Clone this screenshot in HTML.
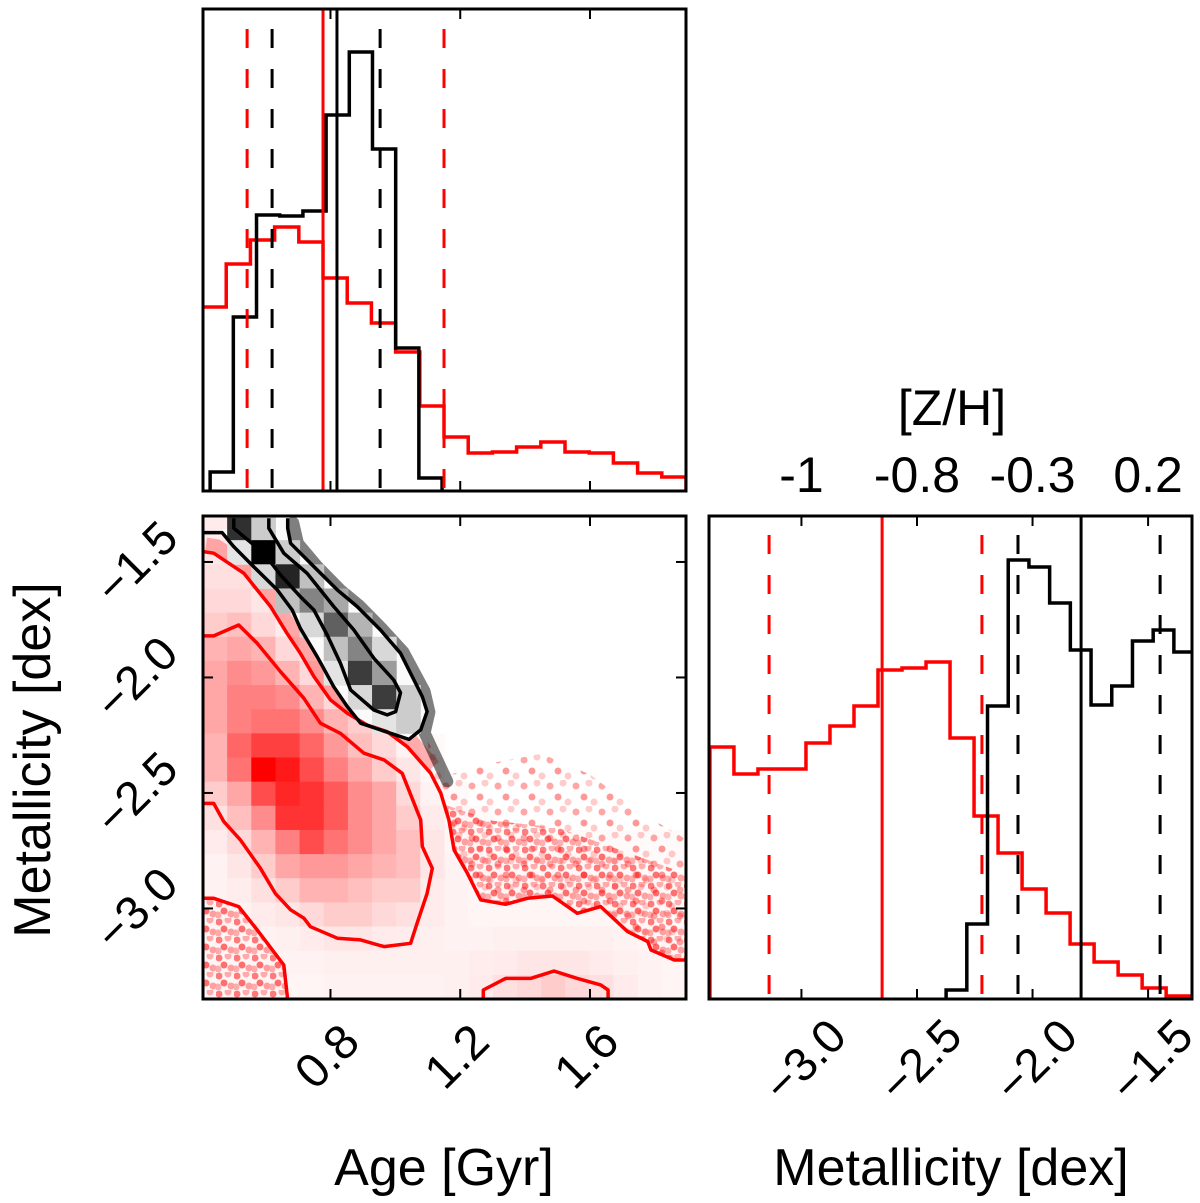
<!DOCTYPE html>
<html><head><meta charset="utf-8"><title>Corner plot</title>
<style>
html,body{margin:0;padding:0;background:#fff;}
svg{display:block;}
text{font-family:"Liberation Sans",Arial,sans-serif;fill:#000;}
</style></head>
<body>
<svg id="chart" xmlns="http://www.w3.org/2000/svg" width="1200" height="1203" viewBox="0 0 1200 1203">
<defs>
<clipPath id="clipTop"><rect x="203" y="9" width="483" height="482"/></clipPath>
<clipPath id="clip2d"><rect x="203" y="516" width="483" height="483"/></clipPath>
<clipPath id="clipRight"><rect x="709" y="516" width="483" height="483"/></clipPath>
<pattern id="speckRed" width="18" height="18" patternUnits="userSpaceOnUse">
<circle cx="3" cy="4" r="3.5" fill="rgba(255,0,0,0.5)"/>
<circle cx="12" cy="2" r="3.5" fill="rgba(255,0,0,0.3)"/>
<circle cx="8" cy="11" r="3.5" fill="rgba(255,0,0,0.55)"/>
<circle cx="15" cy="14" r="3.5" fill="rgba(255,0,0,0.35)"/>
<circle cx="2" cy="15" r="3.5" fill="rgba(255,0,0,0.3)"/>
</pattern>
<pattern id="speckRedLight" width="26" height="26" patternUnits="userSpaceOnUse">
<circle cx="4" cy="6" r="3.5" fill="rgba(255,0,0,0.35)"/>
<circle cx="17" cy="3" r="3.5" fill="rgba(255,0,0,0.2)"/>
<circle cx="12" cy="17" r="3.5" fill="rgba(255,0,0,0.4)"/>
<circle cx="22" cy="22" r="3.5" fill="rgba(255,0,0,0.2)"/>
</pattern>
</defs>
<g id="gTop" clip-path="url(#clipTop)"></g>
<g id="g2d" clip-path="url(#clip2d)"></g>
<g id="gRight" clip-path="url(#clipRight)"></g>
<g id="gAxes"></g>
</svg>
<script>
// ---------- data ----------
const ageDomain = [0.407, 1.896];
const metDomain = [-3.392, -1.301];
const metDomainRight = [-3.40, -1.31];

const ageBlackStart = 0.429, ageBlackWidth = 0.0715;
const ageBlackCounts = [19,174,276,275,280,376,439,342,143,13];
const ageRedStart = 0.404, ageRedWidth = 0.0746;
const ageRedCounts = [184,227,251,264,249,213,188,168,139,85,54,38,39,44,49,39,38,28,18,14];
const ageRedDashed = [0.543, 1.150];
const ageBlackDashed = [0.620, 0.953];
const ageRedSolid = [0.777];
const ageBlackSolid = [0.820];
const ageTicks = [0.8, 1.2, 1.6];
const ageTickLabels = ["0.8","1.2","1.6"];

const metRedStart = -3.396, metRedWidth = 0.1039;
const metRedCounts = [252,225,230,230,256,273,293,329,331,337,261,183,146,110,86,55,37,24,11,3];
const metBlackStart = -2.374, metBlackWidth = 0.0896;
const metBlackCounts = [9,75,293,439,432,396,349,294,313,358,369,347];
const metRedDashed = [-3.140, -2.219];
const metRedSolid = [-2.651];
const metBlackDashed = [-2.063, -1.448];
const metBlackSolid = [-1.790];
const metTicks = [-3.0, -2.5, -2.0, -1.5];
const metTickLabels = ["\u22123.0","\u22122.5","\u22122.0","\u22121.5"];
const zhTickLabels = ["-1","-0.8","-0.3","0.2"];

const redGrid = [
[.08,.08,0,0,0,0,0,0,0,0,0,0,0,0,0,0,0,0,0,0],
[.1,.1,.03,0,0,0,0,0,0,0,0,0,0,0,0,0,0,0,0,0],
[.12,.12,.06,.02,0,0,0,0,0,0,0,0,0,0,0,0,0,0,0,0],
[.15,.15,.1,.05,.02,0,0,0,0,0,0,0,0,0,0,0,0,0,0,0],
[.2,.25,.15,.08,.03,0,0,0,0,0,0,0,0,0,0,0,0,0,0,0],
[.3,.35,.3,.15,.08,.03,0,0,0,0,0,0,0,0,0,0,0,0,0,0],
[.35,.45,.4,.3,.15,.08,.03,0,0,0,0,0,0,0,0,0,0,0,0,0],
[.35,.5,.5,.45,.3,.15,.08,.03,0,0,0,0,0,0,0,0,0,0,0,0],
[.35,.5,.55,.55,.45,.3,.2,.08,.03,0,0,0,0,0,0,0,0,0,0,0],
[.3,.6,.75,.75,.6,.4,.25,.15,.05,.02,0,0,0,0,0,0,0,0,0,0],
[.3,.55,1,.9,.7,.5,.35,.2,.1,.03,0,0,0,0,0,0,0,0,0,0],
[.2,.35,.7,.85,.8,.65,.45,.35,.15,.05,.02,0,0,0,0,0,0,0,0,0],
[.12,.25,.45,.8,.8,.65,.45,.35,.2,.08,.03,.02,0,0,0,0,0,0,0,0],
[.08,.15,.3,.5,.7,.55,.45,.35,.25,.1,.04,.03,.02,.02,.02,.02,.02,.02,.02,.02],
[.05,.1,.2,.35,.4,.4,.35,.3,.25,.1,.05,.03,.03,.03,.03,.03,.03,.03,.02,.02],
[.05,.07,.12,.2,.3,.3,.25,.2,.2,.08,.05,.04,.04,.04,.04,.04,.04,.04,.03,.02],
[.05,.05,.08,.1,.15,.2,.2,.15,.12,.08,.05,.04,.04,.04,.04,.04,.04,.04,.03,.02],
[.04,.04,.05,.06,.08,.1,.1,.08,.07,.06,.05,.05,.06,.06,.06,.06,.06,.05,.04,.03],
[.04,.04,.04,.05,.05,.06,.06,.06,.06,.06,.06,.07,.08,.1,.1,.1,.08,.06,.05,.04],
[.03,.04,.04,.04,.04,.05,.05,.05,.05,.05,.06,.08,.12,.15,.2,.15,.12,.08,.05,.04]
];
const blackCells = [
[1,0,.8],[2,0,.15],
[1,1,.05],[2,1,1],[3,1,.15],
[2,2,.1],[3,2,.85],[4,2,.2],
[3,3,.2],[4,3,.45],[5,3,.3],
[4,4,.1],[5,4,.6],[6,4,.25],
[5,5,.2],[6,5,.45],[7,5,.1],
[5,6,.05],[6,6,.75],[7,6,.35],
[6,7,.1],[7,7,.75],[8,7,.15],
[7,8,.05],[8,8,.15]
];

const redContour1 = [[0.407,-1.455],[0.440,-1.462],[0.533,-1.549],[0.615,-1.693],[0.666,-1.809],[0.707,-1.895],[0.749,-1.996],[0.800,-2.097],[0.852,-2.155],[0.913,-2.206],[0.975,-2.235],[1.037,-2.300],[1.109,-2.415],[1.140,-2.501],[1.165,-2.617],[1.181,-2.747],[1.222,-2.848],[1.263,-2.963],[1.340,-2.982],[1.407,-2.956],[1.484,-2.946],[1.561,-3.021],[1.633,-2.992],[1.716,-3.100],[1.778,-3.143],[1.788,-3.180],[1.860,-3.223],[1.896,-3.223]];
const redContour2 = [[0.407,-1.820],[0.440,-1.820],[0.517,-1.773],[0.574,-1.852],[0.646,-1.975],[0.718,-2.090],[0.769,-2.198],[0.831,-2.242],[0.903,-2.328],[0.965,-2.357],[1.021,-2.415],[1.078,-2.617],[1.083,-2.732],[1.114,-2.826],[1.098,-2.935],[1.067,-3.064],[1.047,-3.151],[0.965,-3.165],[0.893,-3.136],[0.821,-3.129],[0.738,-3.079],[0.718,-3.042],[0.677,-3.006],[0.630,-2.935],[0.584,-2.826],[0.522,-2.703],[0.471,-2.624],[0.440,-2.545],[0.407,-2.545]];
const redContour3 = [[0.407,-2.956],[0.440,-2.956],[0.517,-2.992],[0.574,-3.093],[0.656,-3.245],[0.668,-3.396]];
const redContour4 = [[1.271,-3.396],[1.271,-3.353],[1.340,-3.303],[1.417,-3.303],[1.489,-3.271],[1.561,-3.303],[1.633,-3.331],[1.656,-3.353],[1.656,-3.396]];
const blackContour1 = [[0.407,-1.373],[0.466,-1.373],[0.502,-1.434],[0.563,-1.520],[0.636,-1.621],[0.682,-1.708],[0.707,-1.787],[0.759,-1.910],[0.810,-2.040],[0.852,-2.126],[0.893,-2.198],[0.954,-2.227],[1.042,-2.268],[1.078,-2.227],[1.098,-2.148],[1.083,-2.083],[1.016,-1.895],[0.954,-1.794],[0.882,-1.693],[0.821,-1.621],[0.749,-1.520],[0.677,-1.419],[0.668,-1.354],[0.668,-1.311]];
const blackContour2 = [[0.502,-1.311],[0.502,-1.354],[0.594,-1.462],[0.646,-1.556],[0.707,-1.650],[0.749,-1.708],[0.790,-1.816],[0.831,-1.939],[0.862,-2.054],[0.934,-2.141],[0.975,-2.162],[1.001,-2.148],[1.016,-2.066],[0.995,-2.011],[0.934,-1.917],[0.872,-1.794],[0.810,-1.693],[0.728,-1.549],[0.656,-1.462],[0.610,-1.354],[0.610,-1.311]];
const redScatterTop = [[1.10,-2.28],[1.17,-2.42],[1.30,-2.37],[1.45,-2.33],[1.60,-2.42],[1.75,-2.58],[1.896,-2.70]];
const redScatterDense = [[1.15,-2.55],[1.30,-2.62],[1.50,-2.65],[1.70,-2.75],[1.896,-2.85]];
const blackSpeckle = [[0.685,-1.33],[0.70,-1.42],[0.76,-1.52],[0.83,-1.62],[0.89,-1.69],[0.96,-1.79],[1.025,-1.89],[1.09,-2.06],[1.105,-2.15],[1.09,-2.24],[1.12,-2.33],[1.16,-2.45]];

// ---------- scales ----------
const xAge = a => 203 + (a - ageDomain[0]) / (ageDomain[1] - ageDomain[0]) * 483;
const yMet = m => 516 + (metDomain[1] - m) / (metDomain[1] - metDomain[0]) * 483;
const xMet = m => 709 + (m - metDomainRight[0]) / (metDomainRight[1] - metDomainRight[0]) * 483;
const yTopCount = c => 491 - c;
const yRightCount = c => 999 - c;

const NS = "http://www.w3.org/2000/svg";
function mk(tag, parent, attrs){
  const e = document.createElementNS(NS, tag);
  for (const k in attrs) e.setAttribute(k, attrs[k]);
  parent.appendChild(e);
  return e;
}
const gTop = document.getElementById("gTop");
const g2d = document.getElementById("g2d");
const gRight = document.getElementById("gRight");
const gAxes = document.getElementById("gAxes");

function stepPath(start, width, counts, xf, yf, base){
  let d = "M" + xf(start) + "," + base;
  counts.forEach((c, i) => {
    d += " L" + xf(start + i*width) + "," + yf(c) + " L" + xf(start + (i+1)*width) + "," + yf(c);
  });
  d += " L" + xf(start + counts.length*width) + "," + base;
  return d;
}
function polyPath(pts, xf, yf, close){
  return pts.map((p,i)=> (i?"L":"M") + xf(p[0]).toFixed(1) + "," + yf(p[1]).toFixed(1)).join(" ") + (close?" Z":"");
}

let e;
e = mk("path", gTop, {d: stepPath(ageRedStart, ageRedWidth, ageRedCounts, xAge, yTopCount, 491), fill:"none", stroke:"#ff0000", "stroke-width":3.5});


e = mk("path", gTop, {d: stepPath(ageBlackStart, ageBlackWidth, ageBlackCounts, xAge, yTopCount, 491), fill:"none", stroke:"#000", "stroke-width":3.5});


function vline(g, x, y0, y1, color, dashed, name){
  const l = mk("line", g, {x1:x, x2:x, y1:y0, y2:y1, stroke:color, "stroke-width":3});
  if (dashed){ l.setAttribute("stroke-dasharray","19 21"); }
  
  
}
ageRedDashed.forEach(a => vline(gTop, xAge(a), 29, 491, "#ff0000", true, "age-red-quantile-line"));
ageBlackDashed.forEach(a => vline(gTop, xAge(a), 29, 491, "#000", true, "age-black-quantile-line"));
ageRedSolid.forEach(a => vline(gTop, xAge(a), 9, 491, "#ff0000", false, "age-red-median-line"));
ageBlackSolid.forEach(a => vline(gTop, xAge(a), 9, 491, "#000", false, "age-black-median-line"));

// ---------- 2D panel ----------
const nR = redGrid.length, nC = redGrid[0].length;
const cw = (ageDomain[1]-ageDomain[0])/nC, ch = (metDomain[1]-metDomain[0])/nR;
redGrid.forEach((row, r) => row.forEach((v, c) => {
  if (v <= 0) return;
  const x0 = xAge(ageDomain[0] + c*cw), x1 = xAge(ageDomain[0] + (c+1)*cw);
  const y0 = yMet(metDomain[1] - r*ch), y1 = yMet(metDomain[1] - (r+1)*ch);
  const g = Math.round(255*(1-v));
  const rc = mk("rect", g2d, {x:x0, y:y0, width:x1-x0+0.5, height:y1-y0+0.5, fill:"rgb(255,"+g+","+g+")"});
  
  
}));
e = mk("path", g2d, {d: polyPath(redScatterTop.concat(redContour1.slice().reverse().filter(p=>p[0]>=1.10)), xAge, yMet, true), fill:"url(#speckRedLight)"});


e = mk("path", g2d, {d: polyPath(redScatterDense.concat(redContour1.slice().reverse().filter(p=>p[0]>=1.15)), xAge, yMet, true), fill:"url(#speckRed)"});


e = mk("path", g2d, {d: polyPath(redContour3.concat([[0.407,-3.396]]), xAge, yMet, true), fill:"url(#speckRed)"});


e = mk("path", g2d, {d: polyPath(redContour1.filter(p=>p[0]<=1.11), xAge, yMet, false), fill:"none", stroke:"rgba(255,40,40,0.35)", "stroke-width":14, transform:"translate(3,-7)"});


e = mk("path", g2d, {d: polyPath(blackSpeckle, xAge, yMet, false), fill:"none", stroke:"rgba(0,0,0,0.5)", "stroke-width":12, "stroke-linecap":"round", "stroke-linejoin":"round"});


e = mk("path", g2d, {d: polyPath(blackContour1, xAge, yMet, true), fill:"#fafafa"});


blackCells.forEach(cell => {
  const c = cell[0], r = cell[1], v = cell[2];
  const x0 = xAge(ageDomain[0] + c*cw), x1 = xAge(ageDomain[0] + (c+1)*cw);
  const y0 = yMet(metDomain[1] - r*ch), y1 = yMet(metDomain[1] - (r+1)*ch);
  const g = Math.round(240*(1-v));
  const rc = mk("rect", g2d, {x:x0, y:y0, width:x1-x0+0.5, height:y1-y0+0.5, fill:"rgb("+g+","+g+","+g+")"});
  
  
});
[redContour1, redContour2, redContour3, redContour4].forEach(cn => {
  const p = mk("path", g2d, {d: polyPath(cn, xAge, yMet, false), fill:"none", stroke:"#ff0000", "stroke-width":3.5, "stroke-linejoin":"round"});
  
  
});
[blackContour1, blackContour2].forEach(cn => {
  const p = mk("path", g2d, {d: polyPath(cn, xAge, yMet, false), fill:"none", stroke:"#000", "stroke-width":3.5, "stroke-linejoin":"round"});
  
  
});

// ---------- right histogram ----------
e = mk("path", gRight, {d: stepPath(metRedStart, metRedWidth, metRedCounts, xMet, yRightCount, 999), fill:"none", stroke:"#ff0000", "stroke-width":3.5});


e = mk("path", gRight, {d: stepPath(metBlackStart, metBlackWidth, metBlackCounts, xMet, yRightCount, 999), fill:"none", stroke:"#000", "stroke-width":3.5});


metRedDashed.forEach(m => vline(gRight, xMet(m), 535, 999, "#ff0000", true, "metallicity-red-quantile-line"));
metBlackDashed.forEach(m => vline(gRight, xMet(m), 535, 999, "#000", true, "metallicity-black-quantile-line"));
metRedSolid.forEach(m => vline(gRight, xMet(m), 516, 999, "#ff0000", false, "metallicity-red-median-line"));
metBlackSolid.forEach(m => vline(gRight, xMet(m), 516, 999, "#000", false, "metallicity-black-median-line"));

// ---------- axes ----------
function frame(x,y,w,h,name){
  const r = mk("rect", gAxes, {x:x, y:y, width:w, height:h, fill:"none", stroke:"#000", "stroke-width":3});
  
  
}
function tick(x1,y1,x2,y2){
  const l = mk("line", gAxes, {x1:x1,y1:y1,x2:x2,y2:y2,stroke:"#000","stroke-width":2});
  
  
}
function label(txt, x, y, size, rot, anchor, name){
  const t = mk("text", gAxes, {x:x, y:y, "font-size":size, "text-anchor":anchor||"middle", "dominant-baseline":"central"});
  if (rot) t.setAttribute("transform", "rotate("+rot+" "+x+" "+y+")");
  t.textContent = txt;
  
  
}
ageTicks.forEach((a,i) => {
  const x = xAge(a);
  tick(x,9,x,19); tick(x,491,x,481);
  tick(x,516,x,526); tick(x,999,x,989);
  label(ageTickLabels[i], x-3, 1057, 48, -45, "middle", "age-tick-label");
});
metTicks.forEach((m,i) => {
  const y = yMet(m);
  tick(203,y,213,y); tick(686,y,676,y);
  label(metTickLabels[i], 136, y, 47, -45, "middle", "metallicity-y-tick-label");
  const x = xMet(m);
  tick(x,516,x,526); tick(x,999,x,989);
  label(metTickLabels[i], x+3, 1060, 47, -45, "middle", "metallicity-x-tick-label");
  label(zhTickLabels[i], x, 475, 50, 0, "middle", "zh-tick-label");
});
frame(203,9,483,482,"age-histogram-frame");
frame(203,516,483,483,"age-metallicity-frame");
frame(709,516,483,483,"metallicity-histogram-frame");
label("Metallicity [dex]", 33, 760, 52, -90, "middle", "y-axis-title");
label("Age [Gyr]", 444, 1168, 52, 0, "middle", "x-axis-title-age");
label("Metallicity [dex]", 951, 1168, 52, 0, "middle", "x-axis-title-metallicity");
label("[Z/H]", 952, 408, 50, 0, "middle", "top-axis-title-zh");
</script>
</body></html>
